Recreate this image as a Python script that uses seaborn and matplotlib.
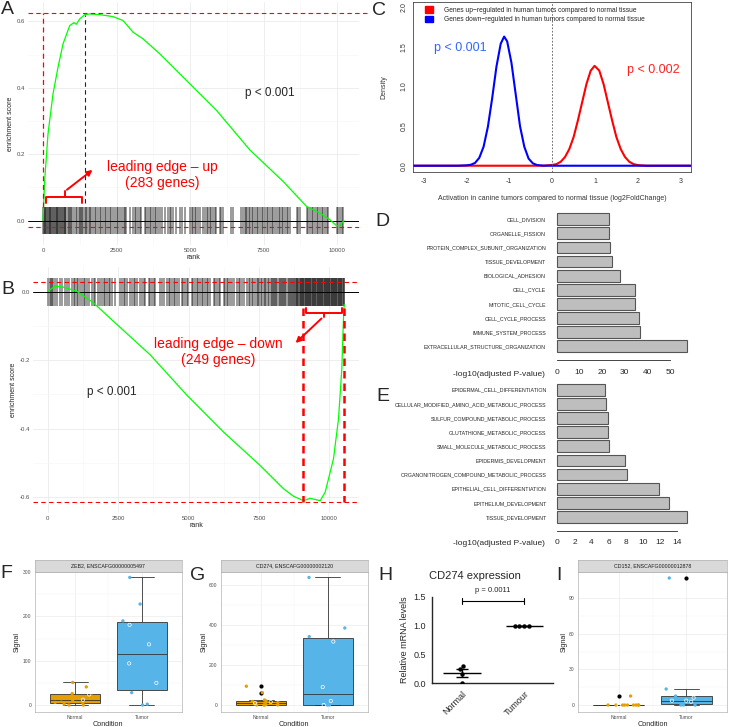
import numpy as np
import pandas as pd
import seaborn as sns
import matplotlib.pyplot as plt
from matplotlib.patches import Patch
from matplotlib.ticker import FormatStrFormatter

sns.set_style('white')
plt.rcParams['font.family'] = ['Liberation Sans', 'DejaVu Sans']
plt.rcParams['axes.unicode_minus'] = False

# ---------------- data ----------------
# A: running enrichment score, up-regulated set
a_rank = [0, 57, 170, 340, 510, 680, 907, 1050, 1134, 1247, 1418, 1588, 1928, 2381, 2722,
          3062, 3402, 3969, 4876, 5897, 7031, 8165, 8959, 9412, 9752, 9979, 10093, 10229]
a_es = [0, 0.123, 0.262, 0.382, 0.462, 0.532, 0.587, 0.596, 0.591, 0.607, 0.620, 0.622, 0.620,
        0.614, 0.602, 0.567, 0.547, 0.502, 0.422, 0.332, 0.213, 0.118, 0.043, 0.023, 0.003,
        -0.015, -0.015, 0.001]
a_hits = [0, 25, 50, 75, 100, 130, 160, 190, 220, 250, 280, 310, 340, 370, 400, 430, 460, 490,
          520, 550, 580, 610, 640, 670, 700, 730, 760, 790, 850, 880, 910, 950, 990, 1054, 1135,
          1170, 1210, 1250, 1290, 1330, 1360, 1418, 1460, 1500, 1550, 1588, 1645, 1700, 1758,
          1816, 1870, 1929, 1986, 2040, 2098, 2156, 2210, 2269, 2326, 2380, 2440, 2500, 2551,
          2609, 2700, 2740, 2779, 2836, 2949, 3061, 3119, 3176, 3230, 3289, 3346, 3459, 3517,
          3571, 3630, 3687, 3741, 3799, 3855, 3912, 3993, 4061, 4139, 4252, 4309, 4367, 4422,
          4537, 4650, 4708, 4820, 4990, 5048, 5100, 5160, 5215, 5270, 5330, 5440, 5500, 5560,
          5620, 5670, 5725, 5780, 5840, 5895, 6010, 6060, 6120, 6405, 6460, 6745, 6800, 6860,
          6900, 6950, 7000, 7050, 7100, 7150, 7200, 7260, 7315, 7370, 7430, 7480, 7540, 7600,
          7660, 7710, 7770, 7830, 7890, 7950, 8010, 8060, 8110, 8165, 8220, 8280, 8340, 8390,
          8620, 8680, 8730, 8960, 9010, 9070, 9130, 9180, 9240, 9300, 9360, 9420, 9470, 9525,
          9580, 9640, 9695, 9980, 10040, 10100, 10150, 10205]

# B: running enrichment score, down-regulated set
b_rank = [0, 261, 557, 1031, 1623, 2334, 3637, 4941, 6244, 7547, 8377, 8732, 9088, 9325,
          9680, 9858, 10154, 10332, 10450, 10509, 10533]
b_es = [0.002, 0.017, 0.014, 0.002, -0.032, -0.086, -0.184, -0.302, -0.410, -0.508, -0.576,
        -0.598, -0.611, -0.604, -0.611, -0.586, -0.488, -0.371, -0.224, -0.076, -0.037]
b_hits = [21, 60, 100, 140, 200, 260, 320, 440, 500, 615, 675, 735, 855, 915, 975, 1030, 1090,
          1150, 1210, 1270, 1330, 1390, 1450, 1565, 1625, 1685, 1800, 1860, 1920, 1980, 2040,
          2100, 2160, 2220, 2275, 2395, 2570, 2630, 2690, 2750, 2810, 2930, 2990, 3050, 3110,
          3165, 3285, 3345, 3405, 3460, 3580, 3640, 3700, 3760, 3815, 3995, 4055, 4115, 4230,
          4290, 4350, 4410, 4470, 4530, 4590, 4650, 4760, 4820, 4880, 4940, 4995, 5115, 5175,
          5235, 5295, 5350, 5410, 5470, 5530, 5590, 5650, 5710, 5770, 5890, 5950, 6010, 6070,
          6125, 6245, 6300, 6360, 6420, 6480, 6540, 6600, 6720, 6780, 6840, 6900, 6955, 7075,
          7135, 7195, 7250, 7310, 7370, 7420, 7470, 7520, 7570, 7620, 7670, 7720, 7770, 7820,
          7870, 7920, 7960, 8000, 8040, 8080, 8120, 8160, 8200, 8240, 8280, 8320, 8360, 8400,
          8440, 8480, 8520, 8560, 8600, 8640, 8680, 8720, 8750, 8780, 8810, 8840, 8870, 8900,
          8930, 8960, 8985, 9010, 9035, 9060, 9085, 9110, 9135, 9160, 9185, 9210, 9235, 9260,
          9285, 9310, 9335, 9360, 9385, 9410, 9435, 9460, 9485, 9510, 9535, 9560, 9585, 9610,
          9635, 9660, 9685, 9710, 9735, 9760, 9785, 9810, 9835, 9860, 9885, 9910, 9935, 9960,
          9985, 10010, 10035, 10060, 10085, 10110, 10135, 10160, 10185, 10210, 10235, 10260,
          10285, 10310, 10335, 10360, 10385, 10410, 10435, 10460, 10485, 10510, 10530]

# C: density of log2FoldChange
c_up_x = [-3.25, -0.2, 0, 0.1, 0.2, 0.3, 0.4, 0.5, 0.6, 0.7, 0.8, 0.9, 0.99, 1.1, 1.2, 1.3,
          1.4, 1.5, 1.6, 1.7, 1.8, 1.9, 2.0, 2.2, 3.25]
c_up_y = [0, 0, 0.01, 0.02, 0.05, 0.11, 0.21, 0.36, 0.57, 0.80, 1.03, 1.20, 1.26, 1.20, 1.03,
          0.80, 0.57, 0.36, 0.21, 0.11, 0.05, 0.02, 0.008, 0, 0]
c_down_x = [-3.25, -2.2, -2.0, -1.9, -1.8, -1.7, -1.6, -1.5, -1.4, -1.3, -1.2, -1.12, -1.05,
            -0.95, -0.85, -0.75, -0.65, -0.55, -0.45, -0.35, -0.2, 0, 3.25]
c_down_y = [0, 0, 0.005, 0.012, 0.035, 0.10, 0.24, 0.49, 0.85, 1.25, 1.54, 1.63, 1.57, 1.30,
            0.90, 0.50, 0.24, 0.09, 0.03, 0.008, 0.001, 0, 0]

# D / E: GO enrichment
d_terms = ['CELL_DIVISION', 'ORGANELLE_FISSION', 'PROTEIN_COMPLEX_SUBUNIT_ORGANIZATION',
           'TISSUE_DEVELOPMENT', 'BIOLOGICAL_ADHESION', 'CELL_CYCLE', 'MITOTIC_CELL_CYCLE',
           'CELL_CYCLE_PROCESS', 'IMMUNE_SYSTEM_PROCESS', 'EXTRACELLULAR_STRUCTURE_ORGANIZATION']
d_vals = [23.2, 23.2, 23.5, 24.5, 28.1, 34.4, 34.6, 36.2, 36.6, 57.4]
e_terms = ['EPIDERMAL_CELL_DIFFERENTIATION', 'CELLULAR_MODIFIED_AMINO_ACID_METABOLIC_PROCESS',
           'SULFUR_COMPOUND_METABOLIC_PROCESS', 'GLUTATHIONE_METABOLIC_PROCESS',
           'SMALL_MOLECULE_METABOLIC_PROCESS', 'EPIDERMIS_DEVELOPMENT',
           'ORGANONITROGEN_COMPOUND_METABOLIC_PROCESS', 'EPITHELIAL_CELL_DIFFERENTIATION',
           'EPITHELIUM_DEVELOPMENT', 'TISSUE_DEVELOPMENT']
e_vals = [5.53, 5.68, 5.95, 5.95, 6.07, 7.86, 8.17, 11.9, 13.07, 15.17]

# F, G, I: signal per sample (filled / open symbols)
f_normal = [51, 41, 6, 0, 0, 9, 26, 20, 2, 5, 14]
f_normal_open = [12, 24]
f_tumor = [288, 228, 190, 2, 0, 28]
f_tumor_open = [181, 137, 94, 50]
g_normal = [94, 62, 20, 12, 0, 0, 0, 0, 2, 5, 18, 25]
g_normal_open = [10, 15]
g_tumor = [639, 386, 343, 0, 0, 8]
g_tumor_open = [318, 90, 20, 0]
i_normal = [7.6, 0, 0, 0, 0, 0, 0, 0, 0, 0]
i_normal_open = [0]
i_tumor = [107, 13.5, 7.6, 0, 0, 0]
i_tumor_open = [3.7, 2.8, 6.2, 3.7]

# H: qPCR
h_normal = [0.30, 0.24, 0.17, 0.0]
h_tumour = [1.0, 1.0, 1.0, 1.0]

# ---------------- layout helpers (pixel coords) ----------------
W, H = 729, 727
fig = plt.figure(figsize=(W / 100, H / 100), dpi=100)
fig.patch.set_facecolor('white')


def ax_px(x0, y0, x1, y1):
    return fig.add_axes([x0 / W, 1 - y1 / H, (x1 - x0) / W, (y1 - y0) / H])


def txt(x, y, s, **kw):
    fig.text(x / W, 1 - y / H, s, **kw)


RED = '#FF0000'


def gsea(box, rank, es, hits, xlim, ylim, yticks, yminor):
    ax = ax_px(*box)
    ax.set_xlim(xlim)
    ax.set_ylim(ylim)
    ax.set_xticks([0, 2500, 5000, 7500, 10000])
    ax.set_xticks([1250, 3750, 6250, 8750], minor=True)
    ax.set_yticks(yticks)
    ax.set_yticks(yminor, minor=True)
    ax.yaxis.set_major_formatter(FormatStrFormatter('%.1f'))
    ax.grid(which='major', color='#EBEBEB', lw=0.6)
    ax.grid(which='minor', color='#F5F5F5', lw=0.4)
    ax.set_axisbelow(True)
    for s in ax.spines.values():
        s.set_visible(False)
    ax.tick_params(which='both', length=0, labelsize=4.3, labelcolor='#4D4D4D', pad=2)
    ax.vlines(hits, -0.04, 0.04, colors='black', alpha=0.5, lw=1.1)
    ax.axhline(0, color='black', lw=0.7)
    sns.lineplot(x=rank, y=es, color='#00FF00', lw=0.9, ax=ax)
    ax.set_xlabel('rank', fontsize=5, color='#222222', labelpad=1)
    ax.set_ylabel('enrichment score', fontsize=5, color='#222222', labelpad=2)
    return ax


# ---------------- A ----------------
axa = gsea((28, 2, 359, 245), a_rank, a_es, a_hits, (-511, 10741), (-0.073, 0.658),
           [0.0, 0.2, 0.4, 0.6], [0.1, 0.3, 0.5])
axa.plot([-511, 11112], [0.625, 0.625], color=RED, ls='--', lw=0.8, dashes=(4, 3), clip_on=False)
axa.plot([-511, 10741], [-0.02, -0.02], color=RED, ls='--', lw=0.8, dashes=(4, 3))
axa.plot([0, 0], [0.04, 0.625], color=RED, ls='--', lw=0.9, dashes=(4, 3))
axa.plot([1440, 1440], [0.053, 0.62], color='#222233', ls='--', lw=0.8, dashes=(4, 3))
axa.plot([113, 113, 1338, 1338], [0.053, 0.070, 0.070, 0.053], color=RED, lw=1.4)
axa.plot([737, 737], [0.070, 0.088], color=RED, lw=1.4)
axa.annotate('', xy=(1758, 0.158), xytext=(737, 0.088),
             arrowprops=dict(arrowstyle='-|>', color=RED, lw=1.4, mutation_scale=8))
axa.text(4048, 0.137, 'leading edge – up\n(283 genes)', color=RED, fontsize=10,
         ha='center', va='center', linespacing=1.15)
axa.text(7710, 0.384, 'p < 0.001', fontsize=8.5, ha='center', va='center')

# ---------------- B ----------------
axb = gsea((33, 267, 359, 513), b_rank, b_es, b_hits, (-527, 11060), (-0.647, 0.073),
           [-0.6, -0.4, -0.2, 0.0], [-0.5, -0.3, -0.1])
axb.plot([-527, 11060], [0.028, 0.028], color=RED, ls='--', lw=0.8, dashes=(4, 3))
axb.plot([-527, 11060], [-0.614, -0.614], color=RED, ls='--', lw=0.8, dashes=(4, 3))
for xv in (9064, 10533):
    axb.plot([xv, xv], [-0.047, -0.614], color=RED, ls='--', lw=1.8, dashes=(3, 2))
axb.plot([9184, 9184, 10452, 10452], [-0.047, -0.062, -0.062, -0.047], color=RED, lw=1.4)
axb.plot([9800, 9800], [-0.062, -0.072], color=RED, lw=1.4)
axb.annotate('', xy=(8733, -0.155), xytext=(9800, -0.072),
             arrowprops=dict(arrowstyle='-|>', color=RED, lw=1.4, mutation_scale=8))
axb.text(6067, -0.176, 'leading edge – down\n(249 genes)', color=RED, fontsize=10,
         ha='center', va='center', linespacing=1.15)
axb.text(2275, -0.294, 'p < 0.001', fontsize=8.5, ha='center', va='center')

# ---------------- C ----------------
axc = ax_px(413.3, 1.7, 691, 172.3)
sns.lineplot(x=c_up_x, y=c_up_y, color='red', lw=1.5, ax=axc)
sns.lineplot(x=c_down_x, y=c_down_y, color='blue', lw=1.5, ax=axc)
axc.axvline(0, color='#555555', ls=(0, (2, 2)), lw=0.6)
axc.set_xlim(-3.24, 3.24)
axc.set_ylim(-0.083, 2.07)
axc.set_xticks(range(-3, 4))
axc.set_yticks([0, 0.5, 1.0, 1.5, 2.0])
axc.yaxis.set_major_formatter(FormatStrFormatter('%.1f'))
axc.tick_params(direction='out', length=2.5, width=0.5, labelsize=5, labelcolor='#333333', pad=1.5)
for lab in axc.get_yticklabels():
    lab.set_rotation(90)
    lab.set_va('center')
for s in axc.spines.values():
    s.set_linewidth(0.6)
    s.set_color('#444444')
axc.legend(handles=[Patch(color='red'), Patch(color='blue')],
           labels=['Genes up\u2212regulated in human tumors compared to normal tissue',
                   'Genes down\u2212regulated in human tumors compared to normal tissue'],
           loc='upper left', bbox_to_anchor=(0.02, 1.01), frameon=False, fontsize=4.8,
           handlelength=1.2, handleheight=1.2, handletextpad=1.6, labelspacing=0.3)
axc.text(-2.14, 1.48, 'p < 0.001', color='#3366FF', fontsize=9, ha='center', va='center')
axc.text(2.36, 1.21, 'p < 0.002', color='#FF2222', fontsize=9, ha='center', va='center')
txt(552, 199, 'Activation in canine tumors compared to normal tissue (log2FoldChange)',
    ha='center', va='center', fontsize=5, color='#333333')
txt(384, 87, 'Density', ha='center', va='center', rotation=90, fontsize=5, color='#333333')


# ---------------- D / E ----------------
def go_bars(box, terms, vals, xlim, xmax_tick, step, label_y):
    ax = ax_px(*box)
    sns.barplot(x=vals, y=terms, orient='h', color='#BEBEBE', edgecolor='#555555',
                linewidth=0.8, width=0.83, saturation=1, ax=ax)
    ax.set_xlim(xlim)
    ax.set_ylim(9.99, -0.7)
    for k in ('left', 'top', 'right'):
        ax.spines[k].set_visible(False)
    ax.spines['bottom'].set_bounds(0, xmax_tick)
    ax.spines['bottom'].set_linewidth(0.6)
    ax.set_xticks(np.arange(0, xmax_tick + 0.1, step))
    ax.tick_params(axis='x', direction='out', length=3, width=0.6, labelsize=6, pad=3)
    ax.tick_params(axis='y', length=0, labelsize=3.8, pad=4)
    ax.set_xlabel('')
    ax.set_ylabel('')
    txt(545, label_y, '-log10(adjusted P-value)', ha='right', va='center', fontsize=6)
    return ax


go_bars((551.5, 209.3, 692, 360.3), d_terms, d_vals, (-2.3, 59.7), 50, 10, 375)
go_bars((552.2, 379.9, 692.7, 531), e_terms, e_vals, (-0.6, 15.8), 14, 2, 543.5)

# ---------------- F, G, I ----------------
pal = {'Normal': '#E69F00', 'Tumor': '#56B4E9'}


def expr_panel(x0, x1, title, nf, no, tf, to, ylim, yticks, ylab_x):
    ax = ax_px(x0, 571.7, x1, 711.7)
    df = pd.DataFrame({
        'Condition': ['Normal'] * (len(nf) + len(no)) + ['Tumor'] * (len(tf) + len(to)),
        'Signal': nf + no + tf + to,
        'open': [False] * len(nf) + [True] * len(no) + [False] * len(tf) + [True] * len(to),
    })
    sns.boxplot(data=df, x='Condition', y='Signal', hue='Condition', palette=pal,
                order=['Normal', 'Tumor'], width=0.75, linewidth=0.6, linecolor='#333333',
                saturation=1, legend=False, fliersize=2,
                flierprops=dict(marker='o', markerfacecolor='black', markeredgecolor='black'),
                ax=ax)
    sns.stripplot(data=df[~df['open']], x='Condition', y='Signal', hue='Condition',
                  palette=pal, order=['Normal', 'Tumor'], jitter=0.3, size=2.4,
                  legend=False, ax=ax)
    sns.stripplot(data=df[df['open']], x='Condition', y='Signal', order=['Normal', 'Tumor'],
                  jitter=0.25, size=2.4, color='white', facecolor='none', edgecolor='white',
                  linewidth=0.5, legend=False, ax=ax)
    ax.set_xlim(-0.6, 1.6)
    ax.set_ylim(ylim)
    ax.set_yticks(yticks)
    mids = [(a + b) / 2 for a, b in zip(yticks[:-1], yticks[1:])]
    ax.set_yticks(mids, minor=True)
    ax.set_xticks([0.5], minor=True)
    ax.grid(which='major', color='#EBEBEB', lw=0.5)
    ax.grid(which='minor', color='#F5F5F5', lw=0.35)
    ax.set_axisbelow(True)
    for s in ax.spines.values():
        s.set_color('#B3B3B3')
        s.set_linewidth(0.5)
    ax.tick_params(which='major', length=1.5, width=0.4, color='#333333', labelsize=3.6,
                   labelcolor='#4D4D4D', pad=1)
    ax.tick_params(which='minor', length=0)
    ax.set_xlabel('')
    ax.set_ylabel('')
    txt((x0 + x1) / 2, 724.3, 'Condition', ha='center', va='center', fontsize=5.2)
    txt(ylab_x, 641.7, 'Signal', ha='center', va='center', rotation=90, fontsize=5.2)
    sa = ax_px(x0, 560, x1, 571.7)
    sa.set_facecolor('#D9D9D9')
    sa.set_xticks([])
    sa.set_yticks([])
    for s in sa.spines.values():
        s.set_color('#B3B3B3')
        s.set_linewidth(0.5)
    sa.text(0.5, 0.5, title, ha='center', va='center', fontsize=3.8, color='#1A1A1A',
            transform=sa.transAxes)
    return ax


expr_panel(35, 181.7, 'ZEB2, ENSCAFG00000005497', f_normal, f_normal_open, f_tumor,
           f_tumor_open, (-15, 301), [0, 100, 200, 300], 17)
expr_panel(221, 367.7, 'CD274, ENSCAFG00000002120', g_normal, g_normal_open, g_tumor,
           g_tumor_open, (-33.6, 668), [0, 200, 400, 600], 204)
expr_panel(578.3, 726.7, 'CD152, ENSCAFG00000012878', i_normal, i_normal_open, i_tumor,
           i_tumor_open, (-5.6, 112.3), [0, 30, 60, 90], 564)

# ---------------- H ----------------
axh = ax_px(432.3, 596.9, 553.3, 683.3)
hdf = pd.DataFrame({'group': ['Normal'] * len(h_normal) + ['Tumour'] * len(h_tumour),
                    'level': h_normal + h_tumour})
sns.swarmplot(data=hdf, x='group', y='level', color='black', size=3.2, ax=axh)
for i, vals in enumerate([h_normal, h_tumour]):
    m = np.mean(vals)
    se = np.std(vals, ddof=1) / np.sqrt(len(vals))
    axh.hlines(m, i - 0.3, i + 0.3, color='black', lw=1)
    axh.hlines([m - se, m + se], i - 0.1, i + 0.1, color='black', lw=1)
    axh.vlines(i, m - se, m + se, color='black', lw=1)
axh.set_xlim(-0.48, 1.47)
axh.set_ylim(0, 1.5)
axh.set_yticks([0, 0.5, 1.0, 1.5])
axh.yaxis.set_major_formatter(FormatStrFormatter('%.1f'))
axh.plot([0, 1], [1.43, 1.43], color='black', lw=0.8, clip_on=False)
axh.plot([0, 0], [1.38, 1.48], color='black', lw=0.8, clip_on=False)
axh.plot([1, 1], [1.38, 1.48], color='black', lw=0.8, clip_on=False)
axh.text(0.5, 1.55, 'p = 0.0011', ha='center', va='bottom', fontsize=5.5)
sns.despine(ax=axh)
for k in ('left', 'bottom'):
    axh.spines[k].set_linewidth(1.0)
axh.tick_params(direction='out', length=3, width=1, labelsize=6.5, pad=1.5)
axh.set_xticks([0, 1])
axh.set_xticklabels(['Normal', 'Tumour'], rotation=45, ha='right', rotation_mode='anchor')
axh.set_xlabel('')
axh.set_ylabel('Relative mRNA levels', fontsize=6.5, labelpad=3)
txt(475, 576, 'CD274 expression', ha='center', va='center', fontsize=8)

# ---------------- panel letters ----------------
for lx, ly, l in [(1, 1, 'A'), (1, 281, 'B'), (372, 2, 'C'), (375, 213, 'D'), (376, 388, 'E'),
                  (0, 565, 'F'), (190, 567, 'G'), (378, 567, 'H'), (556, 567, 'I')]:
    txt(lx, ly, l, ha='left', va='top', fontsize=14)

fig.savefig('out.png', dpi=100, facecolor='white')
